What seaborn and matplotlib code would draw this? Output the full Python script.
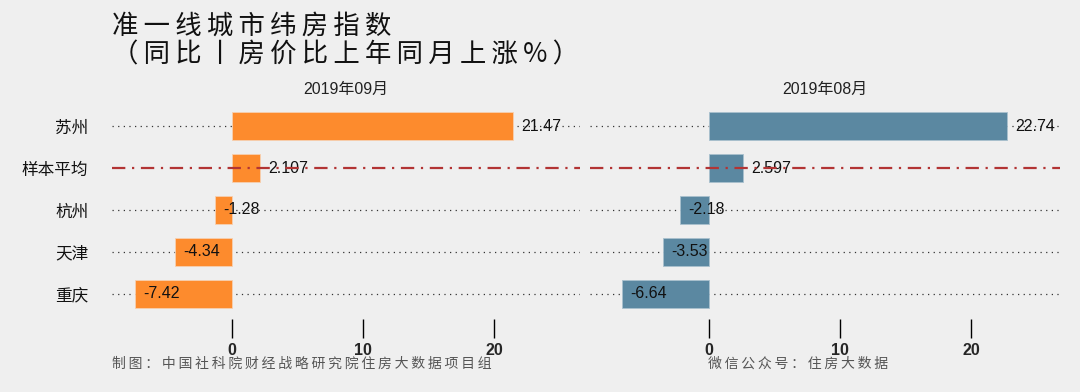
import matplotlib
matplotlib.use("Agg")
import matplotlib.pyplot as plt
import seaborn as sns
import pandas as pd

cities = ["苏州", "样本平均", "杭州", "天津", "重庆"]
sep_values = [21.47, 2.107, -1.28, -4.34, -7.42]
aug_values = [22.74, 2.597, -2.18, -3.53, -6.64]
sep_labels = ["21.47", "2.107", "-1.28", "-4.34", "-7.42"]
aug_labels = ["22.74", "2.597", "-2.18", "-3.53", "-6.64"]
panel_titles = ["2019年09月", "2019年08月"]
x_ticks = [0, 10, 20]
title_line1 = "准一线城市纬房指数"
title_line2 = "（同比丨房价比上年同月上涨%）"
caption_left = "制图：中国社科院财经战略研究院住房大数据项目组"
caption_right = "微信公众号：住房大数据"

sns.set_theme(style="white")
FAM = ["Noto Sans CJK SC", "DejaVu Sans"]
plt.rcParams["font.family"] = FAM


def spaced(s):
    # add a thin space between characters to mimic the wide tracking of the original
    return "\u2009".join(list(s))


BG = "#EFEFEF"
colors = ["#FD8B2D", "#5B88A1"]
fig = plt.figure(figsize=(10.8, 3.92), dpi=100, facecolor=BG)

positions = [[112 / 1080, 1 - 319 / 392, 468 / 1080, 218 / 392],
             [590 / 1080, 1 - 319 / 392, 470 / 1080, 218 / 392]]
xlims = [(-9.16, 26.56), (-9.08, 26.8)]
datasets = [(sep_values, sep_labels), (aug_values, aug_labels)]

for i in range(2):
    ax = fig.add_axes(positions[i])
    ax.set_facecolor(BG)
    vals, labs = datasets[i]
    df = pd.DataFrame({"city": cities, "value": vals})
    for j, c in enumerate(cities):
        if c == "样本平均":
            ax.axhline(j, color="#B23434", linestyle=(0, (6, 3, 1, 3)), lw=1.6, zorder=6)
        else:
            ax.axhline(j, color="#333333", linestyle=(0, (1, 3.5)), lw=0.9, zorder=0)
    sns.barplot(data=df, x="value", y="city", order=cities, color=colors[i],
                saturation=1, width=0.66, ax=ax, zorder=2,
                edgecolor="#F7D0B0" if i == 0 else "#A9C0CE", linewidth=0.6)
    for j, (v, l) in enumerate(zip(vals, labs)):
        ax.annotate(l, xy=(v, j), xytext=(6, 0), textcoords="offset points",
                    ha="left", va="center", fontsize=11.5, color="#111111",
                    family=["Liberation Sans", "DejaVu Sans"], zorder=5)
    ax.set_xlim(*xlims[i])
    ax.set_ylim(4.6, -0.6)
    ax.set_xticks(x_ticks)
    ax.set_xticklabels([str(t) for t in x_ticks], fontweight="bold", fontsize=11.5,
                       family=["Liberation Sans", "DejaVu Sans"])
    ax.tick_params(axis="x", direction="out", length=14, width=1.0, color="black",
                   pad=3, bottom=True)
    ax.tick_params(axis="y", length=0, pad=17)
    if i == 0:
        ax.set_yticks(range(len(cities)))
        ax.set_yticklabels(cities, fontsize=12, color="#111111")
    else:
        ax.set_yticks([])
    ax.set_xlabel("")
    ax.set_ylabel("")
    for s in ax.spines.values():
        s.set_visible(False)
    ax.set_title(panel_titles[i], fontsize=11.5, color="#222222", pad=5,
                 family=["Liberation Sans", "Noto Sans CJK SC"])

fig.text(112 / 1080, 1 - 26 / 392, spaced(title_line1), ha="left", va="center",
         fontsize=19, color="#111111", family=FAM)
fig.text(112 / 1080, 1 - 55 / 392, spaced(title_line2), ha="left", va="center",
         fontsize=19, color="#111111", family=FAM)
fig.text(112 / 1080, 1 - 364 / 392, spaced(caption_left), ha="left", va="center",
         fontsize=10, color="#555555", family=FAM)
fig.text(708 / 1080, 1 - 364 / 392, spaced(caption_right), ha="left", va="center",
         fontsize=10, color="#555555", family=FAM)

fig.savefig("out.png", dpi=100, facecolor=BG)
